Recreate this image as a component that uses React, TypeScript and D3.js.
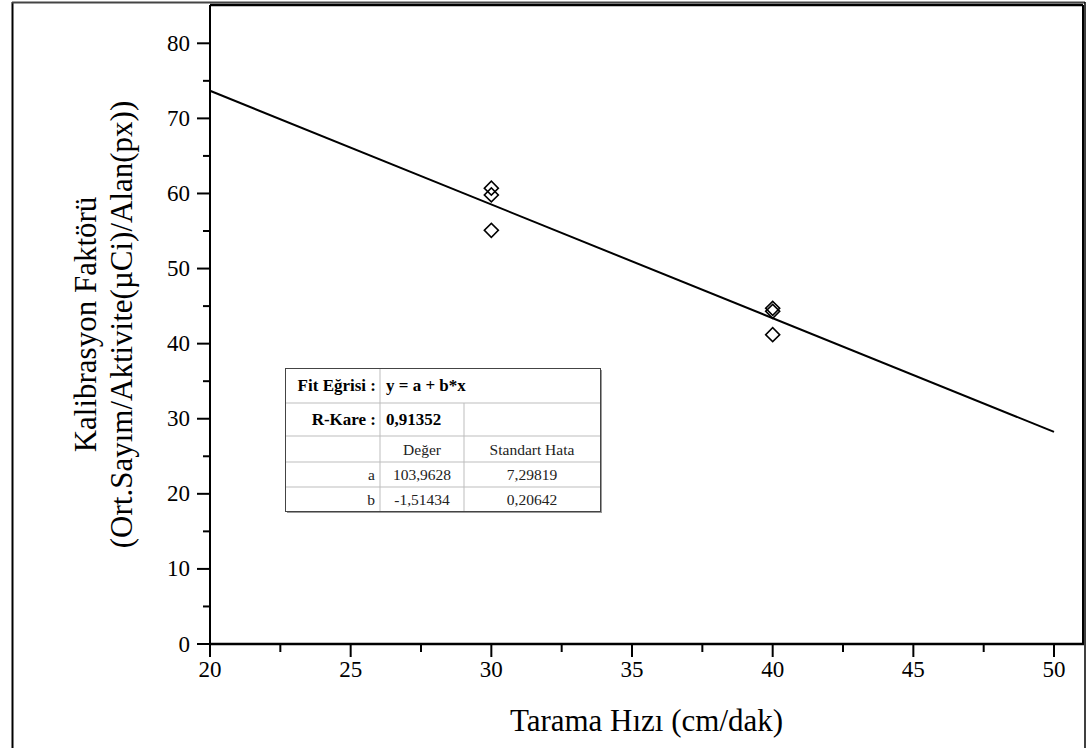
import React from "react";
import * as d3 from "d3";

// Measured calibration factors at each scan speed
const scanSpeeds = [30, 30, 30, 40, 40, 40];
const calibFactors = [60.7, 59.8, 55.1, 44.7, 44.3, 41.2];

// Linear fit parameters
const fitA = 103.9628;
const fitB = -1.51434;
const fitRange = [20, 50];

const xTicks = [20, 25, 30, 35, 40, 45, 50];
const xMinor = [22.5, 27.5, 32.5, 37.5, 42.5, 47.5];
const yTicks = [0, 10, 20, 30, 40, 50, 60, 70, 80];
const yMinor = [5, 15, 25, 35, 45, 55, 65, 75];

const tableRows = [
  ["", "Değer", "Standart Hata"],
  ["a", "103,9628", "7,29819"],
  ["b", "-1,51434", "0,20642"],
];

const W = 1089;
const H = 748;
const FONT = '"Times New Roman", "Liberation Serif", "DejaVu Serif", serif';

export default function App() {
  const left = 210, right = 1083, top = 5, bottom = 644;
  const x = d3.scaleLinear().domain([20, 51.03]).range([left, right]);
  const y = d3.scaleLinear().domain([0, 85.1]).range([bottom, top]);

  const fitLine = d3
    .line<number>()
    .x((v) => x(v))
    .y((v) => y(fitA + fitB * v))(fitRange);

  const diamond = d3.symbol().type(d3.symbolSquare).size(98)();

  // table geometry
  const tx = 285, ty = 368, tw = 315;
  const c1 = 380, c2 = 464;
  const rowsY = [368, 403, 436, 462, 487, 511];

  return (
    <svg
      width={W}
      height={H}
      style={{ position: "absolute", left: 0, top: 0, background: "#fff", fontFamily: FONT }}
    >
      <rect x={0} y={0} width={W} height={H} fill="#fff" />
      {/* outer frame */}
      <line x1={12.5} y1={2} x2={12.5} y2={H} stroke="#000" strokeWidth={2} />
      <line x1={12} y1={2.5} x2={1085} y2={2.5} stroke="#444" strokeWidth={2} />
      <line x1={1085} y1={2} x2={1085} y2={H} stroke="#000" strokeWidth={1.5} />

      {/* plot frame */}
      <line x1={left} y1={top} x2={right} y2={top} stroke="#000" strokeWidth={2.5} />
      <line x1={right} y1={top} x2={right} y2={bottom} stroke="#000" strokeWidth={2} />
      <line x1={left} y1={top} x2={left} y2={bottom} stroke="#000" strokeWidth={2} />
      <line x1={left - 1} y1={bottom} x2={right + 1} y2={bottom} stroke="#000" strokeWidth={2.5} />

      {/* y axis ticks */}
      {yTicks.map((t) => (
        <g key={"yt" + t}>
          <line x1={left - 13} x2={left} y1={y(t)} y2={y(t)} stroke="#000" strokeWidth={2} />
          <text x={left - 20} y={y(t)} fontSize={23} textAnchor="end" dominantBaseline="central">
            {t}
          </text>
        </g>
      ))}
      {yMinor.map((t) => (
        <line key={"ym" + t} x1={left - 7} x2={left} y1={y(t)} y2={y(t)} stroke="#000" strokeWidth={2} />
      ))}

      {/* x axis ticks */}
      {xTicks.map((t) => (
        <g key={"xt" + t}>
          <line x1={x(t)} x2={x(t)} y1={bottom} y2={bottom + 13} stroke="#000" strokeWidth={2} />
          <text x={x(t)} y={bottom + 33} fontSize={23} textAnchor="middle">
            {t}
          </text>
        </g>
      ))}
      {xMinor.map((t) => (
        <line key={"xm" + t} x1={x(t)} x2={x(t)} y1={bottom} y2={bottom + 8} stroke="#000" strokeWidth={2} />
      ))}

      {/* axis titles */}
      <text x={(left + right) / 2} y={731} fontSize={31} textAnchor="middle">
        Tarama Hızı (cm/dak)
      </text>
      <g transform={`translate(96, ${(top + bottom) / 2}) rotate(-90)`}>
        <text x={0} y={0} fontSize={31} textAnchor="middle">
          Kalibrasyon Faktörü
        </text>
        <text x={0} y={36} fontSize={31} textAnchor="middle">
          (Ort.Sayım/Aktivite(µCi)/Alan(px))
        </text>
      </g>

      {/* fit line */}
      <path d={fitLine ?? ""} fill="none" stroke="#000" strokeWidth={2} />

      {/* data points */}
      {scanSpeeds.map((s, i) => (
        <path
          key={"pt" + i}
          d={diamond ?? ""}
          transform={`translate(${x(s)}, ${y(calibFactors[i])}) rotate(45)`}
          fill="none"
          stroke="#000"
          strokeWidth={1.6}
        />
      ))}

      {/* fit statistics table */}
      <g>
        <rect x={tx + 2} y={ty + 2} width={tw} height={rowsY[5] - ty} fill="#9a9a9a" />
        <rect x={tx} y={ty} width={tw} height={rowsY[5] - ty} fill="#fff" />
        {rowsY.slice(1, 5).map((ry, i) => (
          <line key={"tr" + i} x1={tx} x2={tx + tw} y1={ry} y2={ry} stroke="#bdbdbd" strokeWidth={1} />
        ))}
        <line x1={c1} x2={c1} y1={ty} y2={rowsY[5]} stroke="#bdbdbd" strokeWidth={1} />
        <line x1={c2} x2={c2} y1={rowsY[1]} y2={rowsY[5]} stroke="#bdbdbd" strokeWidth={1} />
        <rect x={tx + 0.5} y={ty + 0.5} width={tw} height={rowsY[5] - ty} fill="none" stroke="#444" strokeWidth={1} />

        <text x={c1 - 4} y={(rowsY[0] + rowsY[1]) / 2} fontSize={17} fontWeight="bold" textAnchor="end" dominantBaseline="central">
          Fit Eğrisi :
        </text>
        <text x={c1 + 6} y={(rowsY[0] + rowsY[1]) / 2} fontSize={17} fontWeight="bold" dominantBaseline="central">
          y = a + b*x
        </text>
        <text x={c1 - 4} y={(rowsY[1] + rowsY[2]) / 2} fontSize={17} fontWeight="bold" textAnchor="end" dominantBaseline="central">
          R-Kare :
        </text>
        <text x={c1 + 6} y={(rowsY[1] + rowsY[2]) / 2} fontSize={17} fontWeight="bold" dominantBaseline="central">
          0,91352
        </text>
        {tableRows.map((row, ri) => {
          const cy = (rowsY[ri + 2] + rowsY[ri + 3]) / 2;
          return (
            <g key={"row" + ri}>
              <text x={c1 - 5} y={cy} fontSize={15.5} textAnchor="end" dominantBaseline="central" fill="#222">
                {row[0]}
              </text>
              <text x={(c1 + c2) / 2} y={cy} fontSize={15.5} textAnchor="middle" dominantBaseline="central" fill="#222">
                {row[1]}
              </text>
              <text x={(c2 + tx + tw) / 2} y={cy} fontSize={15.5} textAnchor="middle" dominantBaseline="central" fill="#222">
                {row[2]}
              </text>
            </g>
          );
        })}
      </g>
    </svg>
  );
}
